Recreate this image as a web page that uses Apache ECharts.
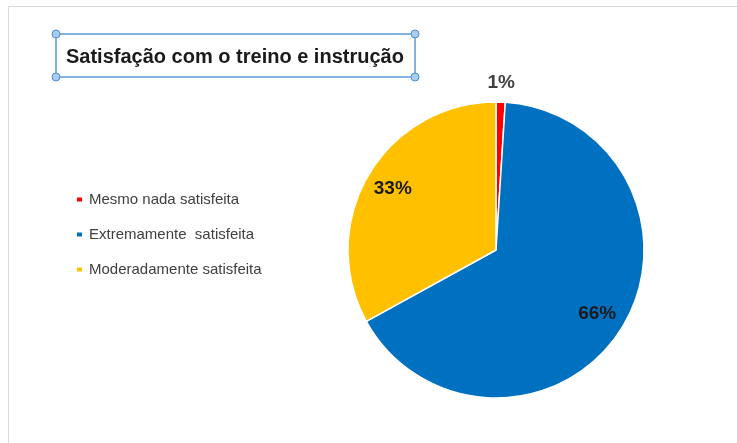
<!DOCTYPE html>
<html>
<head>
<meta charset="utf-8">
<script src="https://cdn.jsdelivr.net/npm/echarts@6/dist/echarts.min.js"></script>
<style>
  html, body { margin: 0; padding: 0; background: #fff; }
  #chart { width: 737px; height: 443px; }
</style>
</head>
<body>
<div id="chart"></div>
<script>
// data
var categories = ['Mesmo nada satisfeita', 'Extremamente  satisfeita', 'Moderadamente satisfeita'];
var values = [1, 66, 33];
var colors = ['#ff0000', '#0070c0', '#ffc000'];
var titleText = 'Satisfação com o treino e instrução';

var cx = 496, cy = 250, R = 148;

var pieData = categories.map(function (c, i) {
    return { name: c, value: values[i], itemStyle: { color: colors[i] } };
});

// invisible rings, used only to place the percent labels
function labelRing(showIdx) {
    return categories.map(function (c, i) {
        return { name: c, value: values[i], label: { show: showIdx.indexOf(i) >= 0 } };
    });
}

var fontFam = '"Liberation Sans", Arial, sans-serif';
var ringBase = {
    type: 'pie',
    center: [cx, cy],
    startAngle: 90,
    clockwise: true,
    silent: true,
    itemStyle: { color: 'rgba(0,0,0,0)' },
    labelLine: { show: false },
    emphasis: { disabled: true }
};

var myChart = echarts.init(document.getElementById('chart'));
myChart.setOption({
    animation: false,
    backgroundColor: '#fff',
    title: {
        text: titleText,
        left: 66,
        top: 47,
        padding: 0,
        textStyle: { fontFamily: fontFam, fontSize: 20, fontWeight: 'bold', color: '#1a1a1a' }
    },
    legend: {
        orient: 'vertical',
        left: 75,
        top: 192,
        padding: 0,
        itemWidth: 7,
        itemHeight: 6,
        itemGap: 20,
        icon: 'rect',
        data: categories,
        textStyle: { fontFamily: fontFam, fontSize: 15, color: '#404040', padding: [0, 0, 0, 1] }
    },
    graphic: [
        // outer frame
        { type: 'polyline', shape: { points: [[8.5, 443], [8.5, 6.5], [737, 6.5]] },
          style: { stroke: '#d9d9d9', lineWidth: 1, fill: null } },
        // title selection box
        { type: 'rect', shape: { x: 56, y: 34, width: 359, height: 43 },
          style: { stroke: '#5b9bd5', lineWidth: 1.5, fill: null } },
        { type: 'circle', shape: { cx: 56, cy: 34, r: 4 }, style: { fill: '#a9cdf0', stroke: '#4a90d9', lineWidth: 1 } },
        { type: 'circle', shape: { cx: 415, cy: 34, r: 4 }, style: { fill: '#a9cdf0', stroke: '#4a90d9', lineWidth: 1 } },
        { type: 'circle', shape: { cx: 56, cy: 77, r: 4 }, style: { fill: '#a9cdf0', stroke: '#4a90d9', lineWidth: 1 } },
        { type: 'circle', shape: { cx: 415, cy: 77, r: 4 }, style: { fill: '#a9cdf0', stroke: '#4a90d9', lineWidth: 1 } }
    ],
    series: [
        {
            type: 'pie',
            center: [cx, cy],
            radius: R,
            startAngle: 90,
            clockwise: true,
            data: pieData,
            itemStyle: { borderColor: '#fff', borderWidth: 1.5 },
            label: { show: false },
            labelLine: { show: false },
            emphasis: { disabled: true }
        },
        echarts.util.merge({
            radius: [R * 0.58, R],
            data: labelRing([1, 2]),
            label: {
                position: 'inside', formatter: '{d}%',
                fontFamily: fontFam, fontSize: 19, fontWeight: 'bold', color: '#1a1a1a'
            }
        }, ringBase, true),
        echarts.util.merge({
            radius: [R + 5, R + 27],
            data: labelRing([0]),
            label: {
                position: 'inside', formatter: '{d}%',
                fontFamily: fontFam, fontSize: 19, fontWeight: 'bold', color: '#404040'
            }
        }, ringBase, true)
    ]
});
</script>
</body>
</html>
